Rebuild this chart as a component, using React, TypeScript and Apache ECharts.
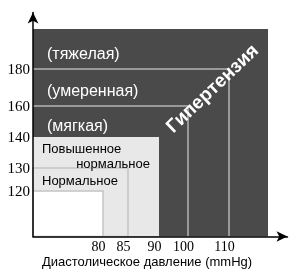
import React, { useEffect, useRef } from "react";
import * as echarts from "echarts";

// Tick values (mmHg)
const diastolicTicks = [80, 85, 90, 100, 110];
const systolicTicks = [120, 130, 140, 160, 180];

// Zones: outer extents (diastolic, systolic) drawn from the origin
const zoneDiastolic = [120, 110, 100, 90, 85, 80];
const zoneSystolic = [200, 180, 160, 140, 130, 120];

const gradeLabels = ["(тяжелая)", "(умеренная)", "(мягкая)"];
const zoneLabels = ["Повышенное", "нормальное", "Нормальное"];
const mainLabel = "Гипертензия";
const axisTitle = "Диастолическое давление (mmHg)";

// Layout: the drawn axes are not linear; these anchor tables place each value
const xAnchors: [number, number][] = [[60, 0], [80, 70], [85, 95], [90, 126], [100, 155], [110, 196], [120, 235]];
const yAnchors: [number, number][] = [[100, 0], [120, 45.5], [130, 68.5], [140, 99.5], [160, 130.5], [180, 167.5], [200, 207.5]];

function interp(v: number, a: [number, number][]) {
  for (let i = 0; i < a.length - 1; i++) {
    if (v <= a[i + 1][0]) {
      const t = (v - a[i][0]) / (a[i + 1][0] - a[i][0]);
      return a[i][1] + t * (a[i + 1][1] - a[i][1]);
    }
  }
  return a[a.length - 1][1];
}
const toX = (v: number) => interp(v, xAnchors);
const toY = (v: number) => interp(v, yAnchors);

const zoneStyles = [
  { type: "rect", fill: "#4a4a4a", stroke: "none" },
  { type: "line", stroke: "#b4b4b4" },
  { type: "line", stroke: "#b4b4b4" },
  { type: "rect", fill: "#e8e8e8", stroke: "none" },
  { type: "rect", fill: "#e8e8e8", stroke: "#c4c4c4" },
  { type: "rect", fill: "#ffffff", stroke: "#c4c4c4" },
];

export default function App() {
  const ref = useRef<HTMLDivElement>(null);
  useEffect(() => {
    if (!ref.current) return;
    const chart = echarts.init(ref.current, null, { renderer: "svg" });
    const xVals = diastolicTicks.map(toX);
    const yVals = systolicTicks.map(toY);
    const fmt = (vals: number[], ticks: number[]) => (v: number) => {
      const i = vals.findIndex((x) => Math.abs(x - v) < 0.01);
      return i >= 0 ? String(ticks[i]) : "";
    };
    const gradeFont = "16px 'Liberation Sans'";
    const zoneFont = "13px 'Liberation Sans'";
    const option: any = {
      animation: false,
      grid: { left: 33, top: 12.5, right: 5.5, bottom: 32.5 },
      xAxis: {
        type: "value",
        min: 0,
        max: 254.5,
        z: 5,
        splitLine: { show: false },
        axisTick: { show: false },
        axisLine: {
          lineStyle: { color: "#000", width: 1.5 },
          symbol: ["none", "arrow"],
          symbolSize: [8, 11],
        },
        axisLabel: {
          customValues: xVals,
          formatter: fmt(xVals, diastolicTicks),
          color: "#000",
          fontFamily: "Liberation Serif",
          fontSize: 14,
          margin: 3,
          padding: [0, 9, 0, 0],
        },
      },
      yAxis: {
        type: "value",
        min: 0,
        max: 224,
        z: 5,
        splitLine: { show: false },
        axisTick: { show: false },
        axisLine: {
          lineStyle: { color: "#000", width: 1.5 },
          symbol: ["none", "arrow"],
          symbolSize: [8, 11],
        },
        axisLabel: {
          customValues: yVals,
          formatter: fmt(yVals, systolicTicks),
          color: "#000",
          fontFamily: "Liberation Serif",
          fontSize: 15,
          margin: 3,
        },
      },
      series: [
        {
          type: "custom",
          z: 1,
          data: zoneDiastolic.map((d, i) => [toX(d), toY(zoneSystolic[i])]),
          renderItem: (params: any, api: any) => {
            const st = zoneStyles[params.dataIndex];
            const o = api.coord([0, 0]);
            const c = api.coord([api.value(0), api.value(1)]);
            if (st.type === "rect") {
              return {
                type: "rect",
                shape: { x: o[0], y: c[1], width: c[0] - o[0], height: o[1] - c[1] },
                style: { fill: st.fill, stroke: st.stroke, lineWidth: 1.5 },
              };
            }
            return {
              type: "polyline",
              shape: { points: [[o[0], c[1]], [c[0], c[1]], [c[0], o[1]]] },
              style: { fill: "none", stroke: st.stroke, lineWidth: 1.5 },
            };
          },
        },
      ],
      graphic: [
        { type: "text", x: 47, y: 53, z: 10, style: { text: gradeLabels[0], fill: "#fff", font: gradeFont, verticalAlign: "middle" } },
        { type: "text", x: 47, y: 90, z: 10, style: { text: gradeLabels[1], fill: "#fff", font: gradeFont, verticalAlign: "middle" } },
        { type: "text", x: 47, y: 125, z: 10, style: { text: gradeLabels[2], fill: "#fff", font: gradeFont, verticalAlign: "middle" } },
        { type: "text", x: 42, y: 148.5, z: 10, style: { text: zoneLabels[0], fill: "#000", font: zoneFont, verticalAlign: "middle" } },
        { type: "text", x: 150, y: 163.5, z: 10, style: { text: zoneLabels[1], fill: "#000", font: zoneFont, align: "right", verticalAlign: "middle" } },
        { type: "text", x: 42, y: 180, z: 10, style: { text: zoneLabels[2], fill: "#000", font: zoneFont, verticalAlign: "middle" } },
        {
          type: "text", x: 212, y: 88, rotation: 0.76, z: 10,
          style: { text: mainLabel, fill: "#fff", font: "bold 19px 'Liberation Sans'", align: "center", verticalAlign: "middle" },
        },
        { type: "text", x: 147, y: 261, z: 10, style: { text: axisTitle, fill: "#000", font: "13px 'Liberation Sans'", align: "center", verticalAlign: "middle" } },
      ],
    };
    chart.setOption(option);
    return () => chart.dispose();
  }, []);
  return <div ref={ref} style={{ position: "fixed", left: 0, top: 0, width: 293, height: 269 }} />;
}
